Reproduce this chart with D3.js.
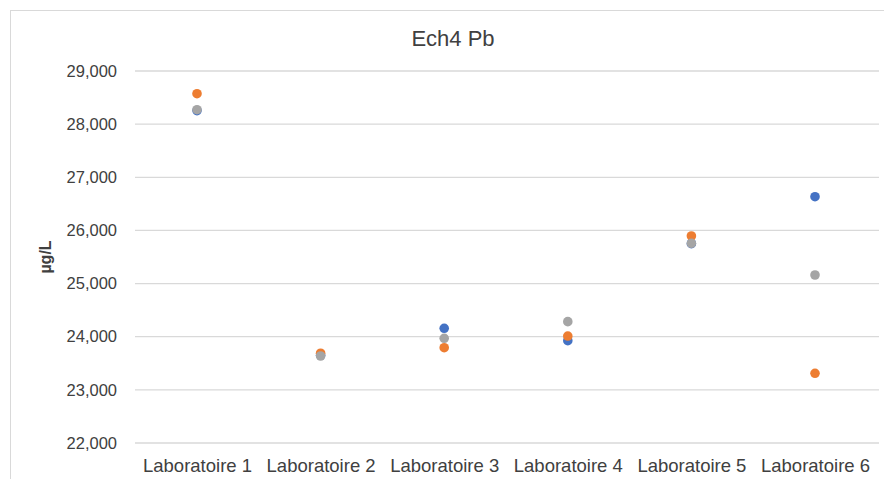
<!DOCTYPE html>
<html>
<head>
<meta charset="utf-8">
<script src="https://cdn.jsdelivr.net/npm/d3@7"></script>
<style>
  html, body { margin: 0; padding: 0; background: #fff; }
  svg { display: block; }
  text { font-family: "Liberation Sans", Arial, sans-serif; fill: #404040; }
</style>
</head>
<body>
<svg id="chart" width="884" height="479"></svg>
<script>
const title = "Ech4 Pb";
const yLabel = "µg/L";
const categories = ["Laboratoire 1", "Laboratoire 2", "Laboratoire 3", "Laboratoire 4", "Laboratoire 5", "Laboratoire 6"];
const seriesBlue   = [28255, 23650, 24158, 23925, 25750, 26635];
const seriesOrange = [28573, 23690, 23793, 24013, 25895, 23312];
const seriesGray   = [28272, 23637, 23970, 24283, 25758, 25161];
const yTicks = [22000, 23000, 24000, 25000, 26000, 27000, 28000, 29000];
const colors = ["#4472C4", "#ED7D31", "#A5A5A5"];

const svg = d3.select("#chart");
const W = 884, H = 479;

// chart area border
svg.append("rect").attr("x", 10.5).attr("y", 10.5).attr("width", W).attr("height", H)
  .attr("fill", "#fff").attr("stroke", "#D9D9D9").attr("stroke-width", 1);

const x = d3.scalePoint().domain(categories).range([197, 815]);
const y = d3.scaleLinear().domain([22000, 29000]).range([443, 71]);
const plotLeft = 135, plotRight = 879;

// gridlines
svg.append("g").selectAll("line").data(yTicks).join("line")
  .attr("x1", plotLeft).attr("x2", plotRight)
  .attr("y1", d => y(d)).attr("y2", d => y(d))
  .attr("stroke", "#D9D9D9").attr("stroke-width", 1.3);

// y axis (labels only)
const yAxis = d3.axisLeft(y).tickValues(yTicks).tickSize(0).tickPadding(0)
  .tickFormat(d3.format(","));
const gy = svg.append("g").attr("transform", "translate(117,0)").call(yAxis);
gy.select(".domain").remove();
gy.selectAll("text").attr("font-size", 16.5).attr("fill", "#404040")
  .attr("font-family", "Liberation Sans, Arial, sans-serif");

// x axis (labels only)
const xAxis = d3.axisBottom(x).tickSize(0).tickPadding(0);
const gx = svg.append("g").attr("transform", "translate(0,459)").call(xAxis);
gx.select(".domain").remove();
gx.selectAll("text").attr("font-size", 18.5).attr("fill", "#404040")
  .attr("font-family", "Liberation Sans, Arial, sans-serif");

// title
svg.append("text").attr("x", 453).attr("y", 46).attr("text-anchor", "middle")
  .attr("font-size", 22).text(title);

// y label
svg.append("text").attr("transform", "translate(51,257) rotate(-90)")
  .attr("text-anchor", "middle").attr("font-size", 16).attr("font-weight", "bold")
  .text(yLabel);

// points
const allSeries = [seriesBlue, seriesOrange, seriesGray];
allSeries.forEach((vals, si) => {
  svg.append("g").selectAll("circle").data(vals).join("circle")
    .attr("cx", (d, i) => x(categories[i]))
    .attr("cy", d => y(d))
    .attr("r", 4.8)
    .attr("fill", colors[si]);
});
</script>
</body>
</html>
